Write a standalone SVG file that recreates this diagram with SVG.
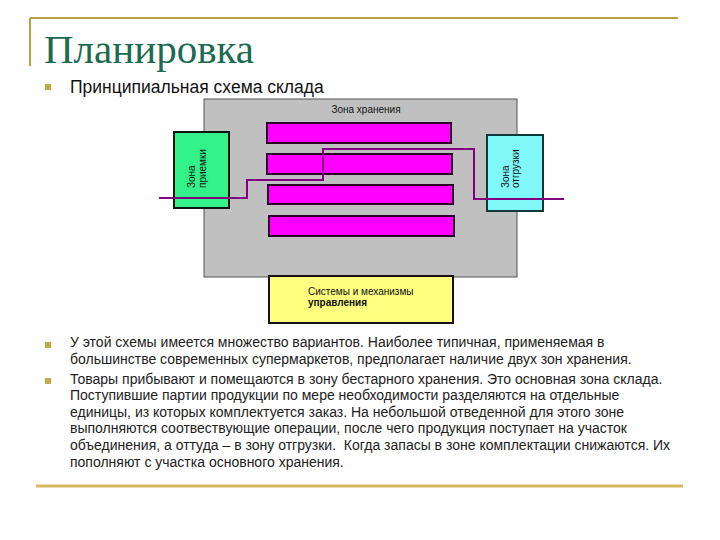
<svg xmlns="http://www.w3.org/2000/svg" width="720" height="540" viewBox="0 0 720 540">
<style>
  .title{font-family:"Liberation Serif","Times New Roman",serif;font-size:41px;fill:#1b6b50}
  .body{font-family:"Liberation Sans",Arial,sans-serif;font-size:14px;fill:#222}
  .sub{font-family:"Liberation Sans",Arial,sans-serif;font-size:17.5px;fill:#111}
  .lbl{font-family:"Liberation Sans",Arial,sans-serif;font-size:10px;fill:#111}
  .bullet{fill:#c4a848}
  .rack{fill:#ff00ff;stroke:#2a002a;stroke-width:2}
  .flow{fill:none;stroke:#800080;stroke-width:2}
</style>
<rect width="720" height="540" fill="#ffffff"/>
<!-- frame lines -->
<line x1="30" y1="18" x2="678" y2="18" stroke="#b8a040" stroke-width="2"/>
<line x1="30" y1="18" x2="30" y2="66" stroke="#b8a040" stroke-width="2"/>
<line x1="36" y1="486" x2="683" y2="486" stroke="#d8b860" stroke-width="3"/>
<text class="title" x="44" y="63">Планировка</text>
<rect class="bullet" x="45" y="84" width="6" height="6"/>
<text class="sub" x="70" y="93">Принципиальная схема склада</text>

<g id="storage-zone">
  <rect x="204" y="99" width="313" height="178" fill="#c0c0c0" stroke="#555" stroke-width="1"/>
  <text class="lbl" x="366" y="113" text-anchor="middle">Зона хранения</text>
</g>
<g id="rack-1"><rect class="rack" x="267" y="123" width="184" height="20"/></g>
<g id="rack-2"><rect class="rack" x="267" y="154" width="185" height="20"/></g>
<g id="rack-3"><rect class="rack" x="268" y="185" width="185" height="19"/></g>
<g id="rack-4"><rect class="rack" x="269" y="216" width="185" height="20"/></g>
<g id="receiving-zone">
  <rect x="174" y="132" width="55" height="76" fill="#33f28a" stroke="#111" stroke-width="2"/>
  <text class="lbl" transform="translate(195,188) rotate(-90)">Зона</text>
  <text class="lbl" transform="translate(206,188) rotate(-90)">приемки</text>
</g>
<g id="shipping-zone">
  <rect x="487" y="135" width="56" height="76" fill="#80f8f8" stroke="#113838" stroke-width="2"/>
  <text class="lbl" transform="translate(509,188) rotate(-90)">Зона</text>
  <text class="lbl" transform="translate(519,188) rotate(-90)">отгрузки</text>
</g>
<g id="control-systems">
  <rect x="269" y="276" width="184" height="47" fill="#ffff80" stroke="#111" stroke-width="2"/>
  <text class="lbl" x="308" y="295">Системы и механизмы</text>
  <text class="lbl" x="308" y="306" font-weight="bold">управления</text>
</g>
<g id="connectors">
  <polyline class="flow" points="159,198 247,198 247,180 323,180 323,149 474,149 474,199 564,199"/>
</g>

<rect class="bullet" x="45" y="342" width="6" height="6"/>
<text class="body" x="70" y="347">У этой схемы имеется множество вариантов. Наиболее типичная, применяемая в</text>
<text class="body" x="70" y="364">большинстве современных супермаркетов, предполагает наличие двух зон хранения.</text>
<rect class="bullet" x="45" y="378" width="6" height="6"/>
<text class="body" x="70" y="384">Товары прибывают и помещаются в зону бестарного хранения. Это основная зона склада.</text>
<text class="body" x="70" y="400">Поступившие партии продукции по мере необходимости разделяются на отдельные</text>
<text class="body" x="70" y="417">единицы, из которых комплектуется заказ. На небольшой отведенной для этого зоне</text>
<text class="body" x="70" y="433">выполняются соотвествующие операции, после чего продукция поступает на участок</text>
<text class="body" x="70" y="450" xml:space="preserve">объединения, а оттуда – в зону отгрузки.  Когда запасы в зоне комплектации снижаются. Их</text>
<text class="body" x="70" y="467">пополняют с участка основного хранения.</text>
</svg>
